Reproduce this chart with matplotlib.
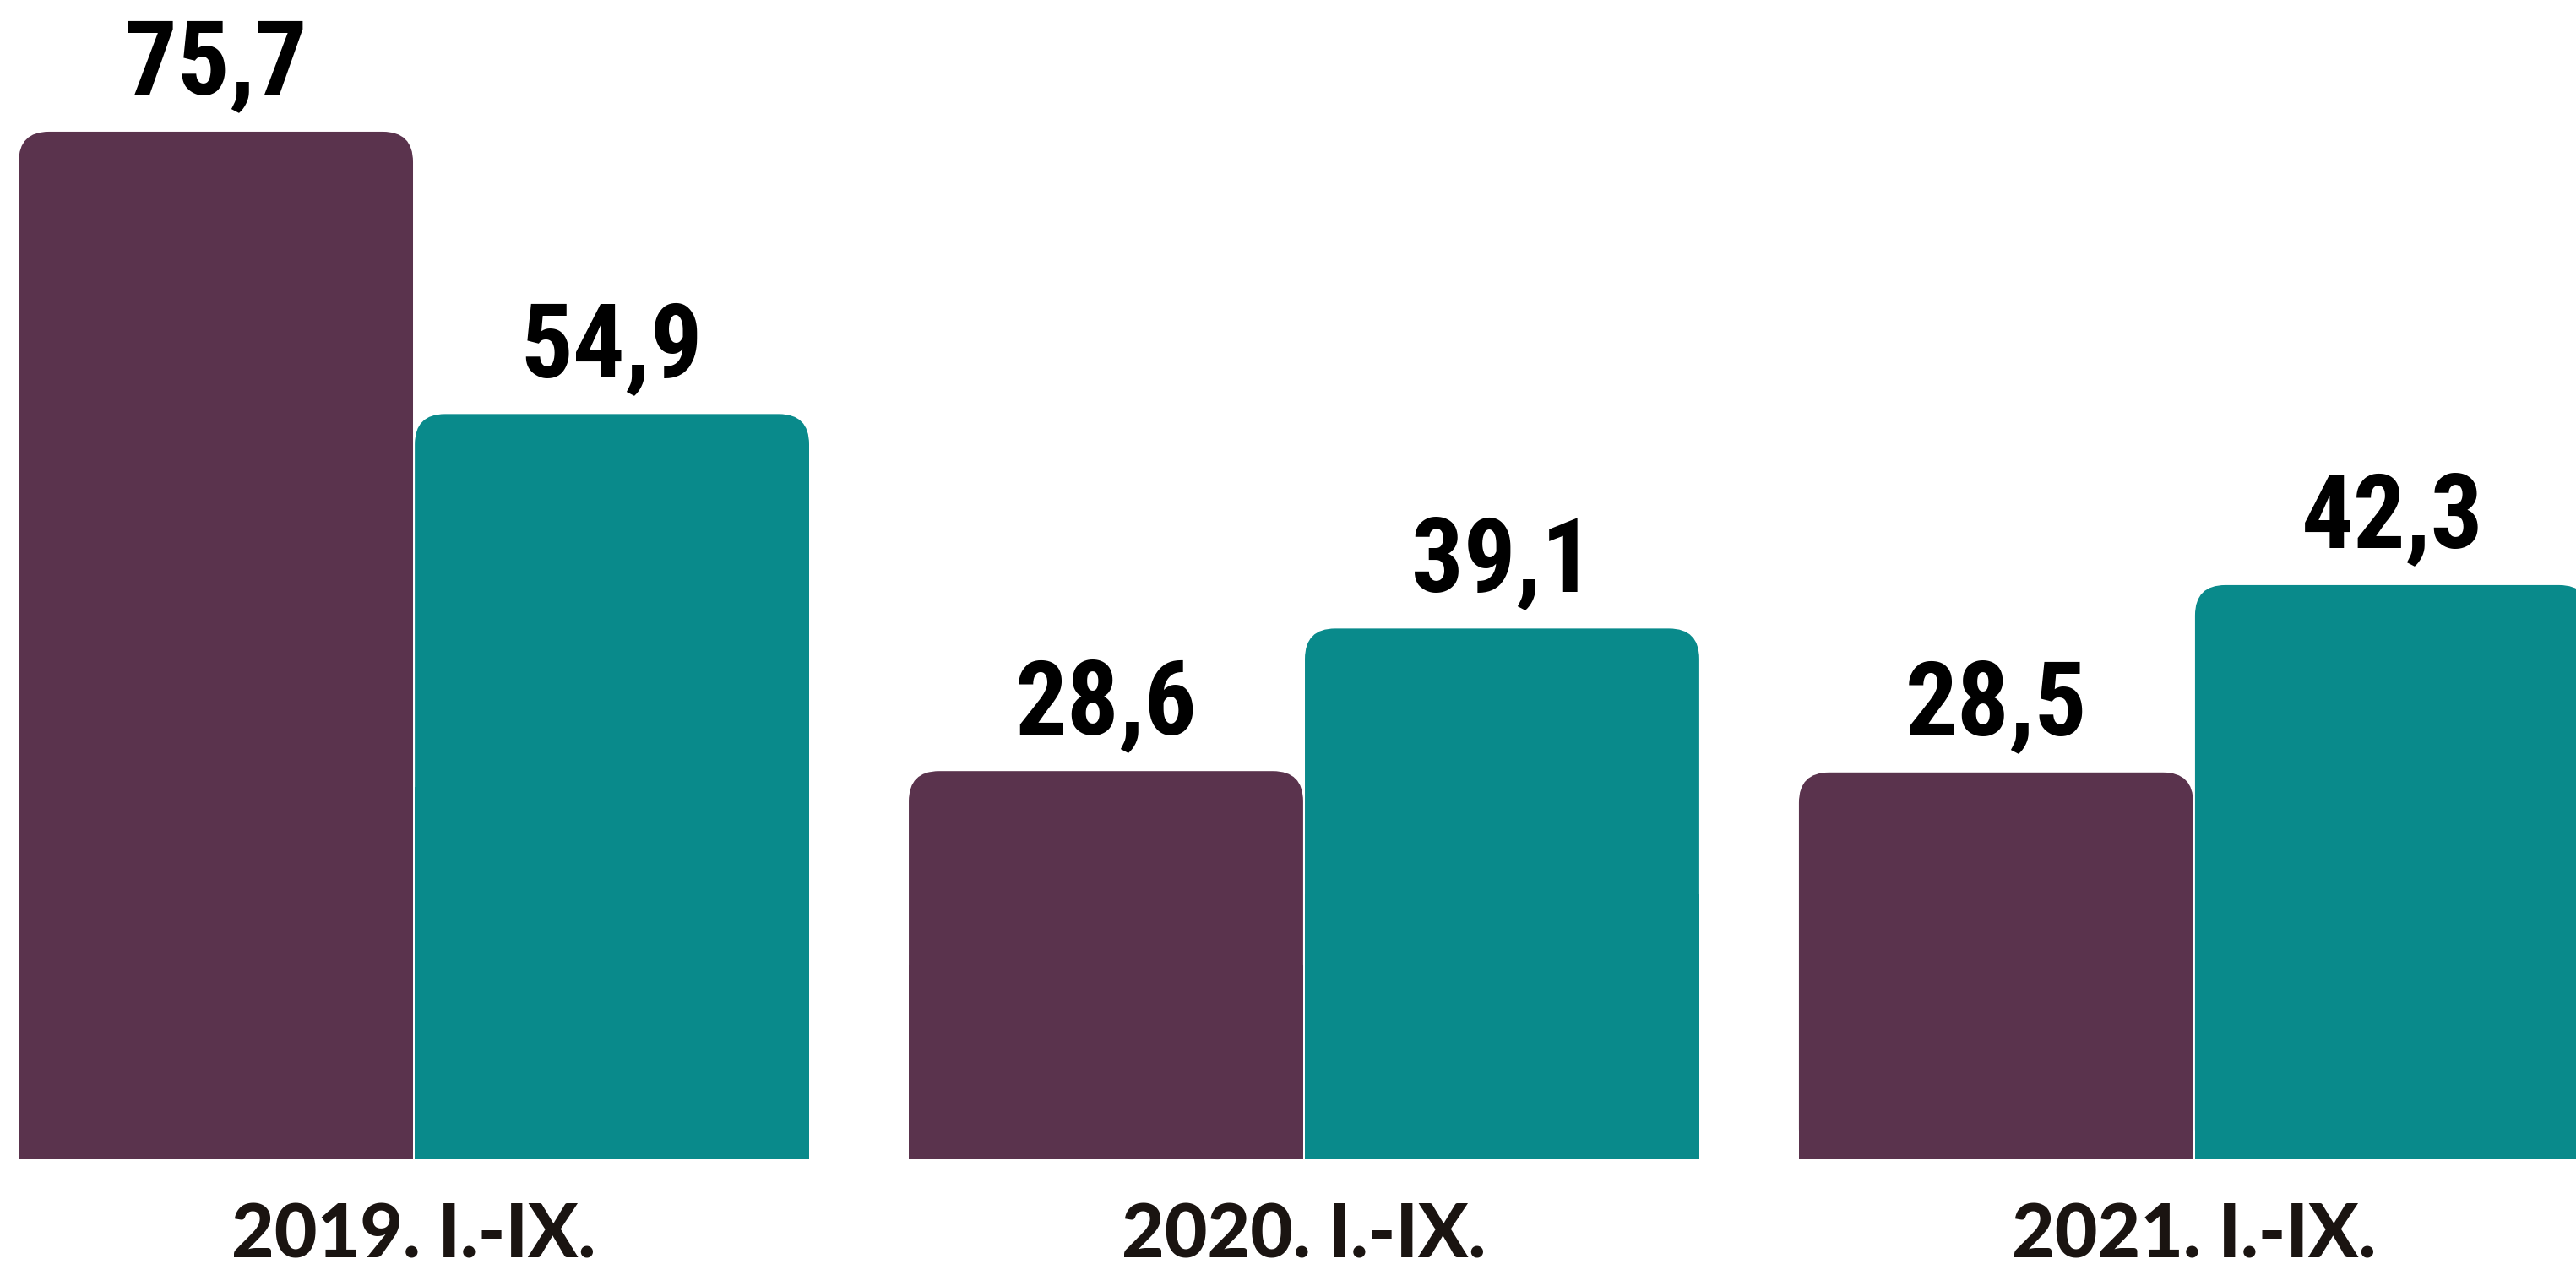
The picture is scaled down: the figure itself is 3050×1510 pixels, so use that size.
import numpy as np
import matplotlib
matplotlib.use("Agg")
import matplotlib.pyplot as plt
import matplotlib.transforms as mtransforms
from matplotlib.patches import FancyBboxPatch, Rectangle

# 数据
categories = ["2019. I.-IX.", "2020. I.-IX.", "2021. I.-IX."]
series_a = [75.7, 28.6, 28.5]   # 紫色
series_b = [54.9, 39.1, 42.3]   # 青色
labels_a = ["75,7", "28,6", "28,5"]
labels_b = ["54,9", "39,1", "42,3"]

purple = "#5a334d"
teal = "#098a8b"

fig = plt.figure(figsize=(30.5, 15.1), dpi=100)
# 坐标区底边就是柱子的基线
ax = fig.add_axes([0, 137 / 1510, 1, 1 - 137 / 1510])

x = np.arange(len(categories))
w = 0.443
off = 0.2225

bars_a = ax.bar(x - off, series_a, width=w, color=purple)
bars_b = ax.bar(x + off, series_b, width=w, color=teal)

# 顶部圆角：把 bar 换成圆角矩形 + 下半部分普通矩形
r = 0.034
aspect = 65.5
for bars in (bars_a, bars_b):
    for b in bars:
        bx, by = b.get_x(), b.get_y()
        bw, bh = b.get_width(), b.get_height()
        col = b.get_facecolor()
        b.set_visible(False)
        ax.add_patch(FancyBboxPatch((bx, by), bw, bh,
                                    boxstyle=f"round,pad=0,rounding_size={r}",
                                    mutation_aspect=aspect, fc=col, ec="none"))
        ax.add_patch(Rectangle((bx, by), bw, bh / 2, fc=col, ec="none"))

# 数值标签
up = mtransforms.offset_copy(ax.transData, fig=fig, x=0, y=32, units="points")
for bars, labs in ((bars_a, labels_a), (bars_b, labels_b)):
    for b, t in zip(bars, labs):
        ax.text(b.get_x() + b.get_width() / 2, b.get_height(), t, transform=up,
                ha="center", va="baseline", family="Roboto Condensed",
                fontweight="bold", fontsize=88, color="black")

# 类别标签（坐标区下方）
trans = mtransforms.blended_transform_factory(ax.transData, ax.transAxes)
down = mtransforms.offset_copy(trans, fig=fig, x=0, y=-84, units="points")
for xi, c in zip(x, categories):
    ax.text(xi, 0, c, transform=down, ha="center", va="baseline",
            family="Lato", fontweight="black", fontsize=63, color="#1a1411",
            clip_on=False)

ax.set_xticks([])
ax.set_yticks([])
for s in ax.spines.values():
    s.set_visible(False)

ax.set_xlim(-0.465, 2.429)
ax.set_ylim(0, 85.4)

fig.savefig("out.png", dpi=100, facecolor="white")
